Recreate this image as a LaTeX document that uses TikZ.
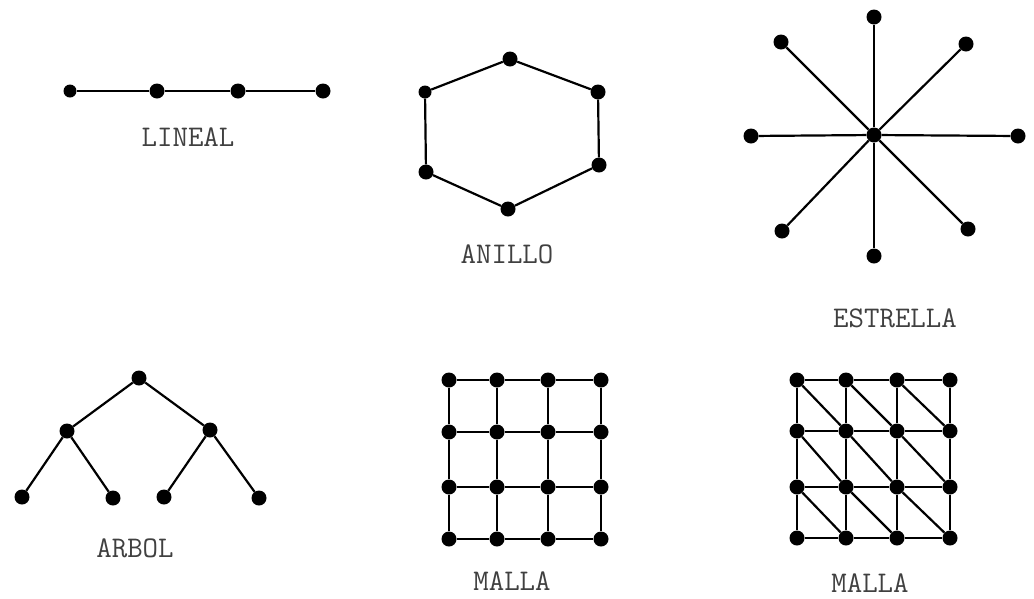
\documentclass[tikz,border=0pt]{standalone}
\usepackage{fontspec}
\tikzset{
  dot/.style={circle, fill=black, inner sep=0pt, minimum size=15pt},
  sdot/.style={dot, minimum size=13pt},
  lbl/.style={font=\ttfamily\fontsize{30}{32}\selectfont, text=black!75},
  edge/.style={line width=2.2pt}
}
\begin{document}
\begin{tikzpicture}[x=1pt,y=-1pt]
\useasboundingbox (0,0) rectangle (1034,598);

% Lineal
\node[sdot] (l1) at (70,91) {};
\node[dot] (l2) at (157,91) {};
\node[dot] (l3) at (238,91) {};
\node[dot] (l4) at (323,91) {};
\draw[edge] (l1) -- (l2) -- (l3) -- (l4);
\node[lbl] (lineal) at (188,137) {LINEAL};

% Anillo
\node[dot] (a1) at (510,59) {};
\node[dot] (a2) at (598,92) {};
\node[dot] (a3) at (599,165) {};
\node[dot] (a4) at (508,209) {};
\node[dot] (a5) at (426,172) {};
\node[sdot] (a6) at (425,92) {};
\draw[edge] (a1) -- (a2) -- (a3) -- (a4) -- (a5) -- (a6) -- (a1);
\node[lbl] (anillo) at (507,254) {ANILLO};

% Estrella
\node[dot] (c) at (874,135) {};
\foreach \n/\x/\y in {n/874/17, s/874/256, w/751/136, e/1018/136,
                      nw/781/42, ne/966/44, sw/782/231, se/968/229} {
  \node[dot] (s-\n) at (\x,\y) {};
  \draw[edge] (c) -- (s-\n);
}
\node[lbl] (estrella) at (895,318) {ESTRELLA};

% Arbol
\node[dot] (r) at (139,378) {};
\node[dot] (r1) at (67,431) {};
\node[dot] (r2) at (210,430) {};
\node[dot] (h1) at (22,497) {};
\node[dot] (h2) at (113,498) {};
\node[dot] (h3) at (164,497) {};
\node[dot] (h4) at (259,498) {};
\draw[edge] (r1) -- (r) -- (r2);
\draw[edge] (h1) -- (r1) -- (h2);
\draw[edge] (h3) -- (r2) -- (h4);
\node[lbl] (arbol) at (135,548) {ARBOL};

% Malla
\foreach \i/\x in {0/449,1/497,2/548,3/601}
  \foreach \j/\y in {0/380,1/432,2/487,3/539}
    \node[dot] (m-\i-\j) at (\x,\y) {};
\foreach \i in {0,...,3} {
  \foreach \j in {0,1,2} {
    \pgfmathtruncatemacro\k{\j+1}
    \draw[edge] (m-\i-\j) -- (m-\i-\k);
    \draw[edge] (m-\j-\i) -- (m-\k-\i);
  }
}
\node[lbl] (malla1) at (512,581) {MALLA};

% Malla triangulada
\foreach \i/\x in {0/797,1/846,2/897,3/950}
  \foreach \j/\y in {0/380,1/431,2/487,3/538}
    \node[dot] (t-\i-\j) at (\x,\y) {};
\foreach \i in {0,...,3} {
  \foreach \j in {0,1,2} {
    \pgfmathtruncatemacro\k{\j+1}
    \draw[edge] (t-\i-\j) -- (t-\i-\k);
    \draw[edge] (t-\j-\i) -- (t-\k-\i);
  }
}
\foreach \i in {0,1,2} {
  \foreach \j in {0,1,2} {
    \pgfmathtruncatemacro\a{\i+1}
    \pgfmathtruncatemacro\b{\j+1}
    \draw[edge] (t-\i-\j) -- (t-\a-\b);
  }
}
\node[lbl] (malla2) at (870,583) {MALLA};

\end{tikzpicture}
\end{document}
